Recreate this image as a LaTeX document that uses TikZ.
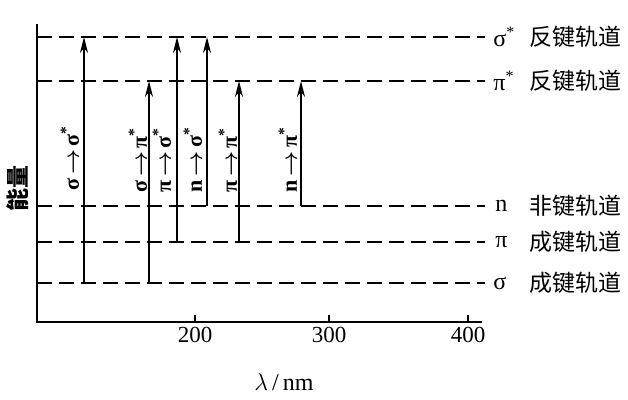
\documentclass[tikz,border=0pt]{standalone}
\usepackage{fontspec}
\setmainfont{Liberation Serif}
\newfontfamily\cjk{Noto Sans CJK SC}
\usetikzlibrary{arrows.meta}

\tikzset{
  level/.style={line width=1pt, dash pattern=on 7.5pt off 3.5pt},
  trans/.style={line width=0.9pt, -{Stealth[length=8pt,width=4pt,inset=2.5pt]}},
  translabel/.style={rotate=90, inner sep=0pt, font=\bfseries\boldmath\fontsize{11}{13}\selectfont},
  orbsym/.style={anchor=west, inner sep=0pt, font=\fontsize{12}{14}\selectfont},
  orbname/.style={anchor=west, inner sep=0pt, font=\cjk\fontsize{11.5}{14}\selectfont},
}
\newcommand{\tto}{\,$\rightarrow$\,}

\begin{document}
\begin{tikzpicture}[x=0.5pt, y=-0.5pt]
        \useasboundingbox (0,0) rectangle (628,400);

        % Achsen
        \coordinate (O) at (37,322);
        \coordinate (ytop) at (37,24);
        \coordinate (xend) at (482,322);
        \draw[line width=1pt] (ytop) -- (O) -- (xend);
        \foreach \x/\t in {195/200, 329/300, 468/400}{
            \draw[line width=1pt] (\x,322) -- (\x,315);
            \node[anchor=north, inner sep=0pt, font=\fontsize{11.5}{14}\selectfont] (tick\t) at (\x,327) {\t};
        }
        \node[font=\fontsize{12}{14}\selectfont] (xlab) at (284,382) {$\lambda$\,/\,nm};
        \node[rotate=90, font=\cjk\bfseries\fontsize{11.5}{14}\selectfont] (ylab) at (18,189) {能量};

        % Energieniveaus
        \foreach \name/\y in {sigstar/37, pistar/81, n/206, pi/242, sigma/283}{
            \coordinate (\name L) at (37,\y);
            \coordinate (\name R) at (485,\y);
            \draw[level] (\name L) -- (\name R);
        }

        % Beschriftung rechts
        \node[orbsym] (sigstarsym) at (493,37) {σ\textsuperscript{*}};
        \node[orbsym] (pistarsym) at (493,81) {π\textsuperscript{*}};
        \node[orbsym] (nsym) at (495,206) {n};
        \node[orbsym] (pisym) at (495,242) {π};
        \node[orbsym] (sigmasym) at (493,283) {σ};
        \node[orbname] (sigstarname) at (529,37) {反键轨道};
        \node[orbname] (pistarname) at (529,81) {反键轨道};
        \node[orbname] (nname) at (529,206) {非键轨道};
        \node[orbname] (piname) at (529,242) {成键轨道};
        \node[orbname] (sigmaname) at (529,283) {成键轨道};

        % Uebergaenge
        \foreach \x/\from/\to in {84/sigma/sigstar, 149/sigma/pistar, 177/pi/sigstar,
                                  207/n/sigstar, 239/pi/pistar, 301/n/pistar}{
            \coordinate (\from\to a) at (\x,0 |- \from L);
            \coordinate (\from\to b) at (\x,0 |- \to L);
            \draw[trans] (\from\to a) -- (\from\to b);
        }
        \node[translabel] (lab1) at (70,158) {σ\tto σ\textsuperscript{*}};
        \node[translabel] (lab2) at (138,160) {σ\tto π\textsuperscript{*}};
        \node[translabel] (lab3) at (162,160) {π\tto σ\textsuperscript{*}};
        \node[translabel] (lab4) at (193,160) {n\tto σ\textsuperscript{*}};
        \node[translabel] (lab5) at (228,160) {π\tto π\textsuperscript{*}};
        \node[translabel] (lab6) at (288,160) {n\tto π\textsuperscript{*}};
\end{tikzpicture}
\end{document}
